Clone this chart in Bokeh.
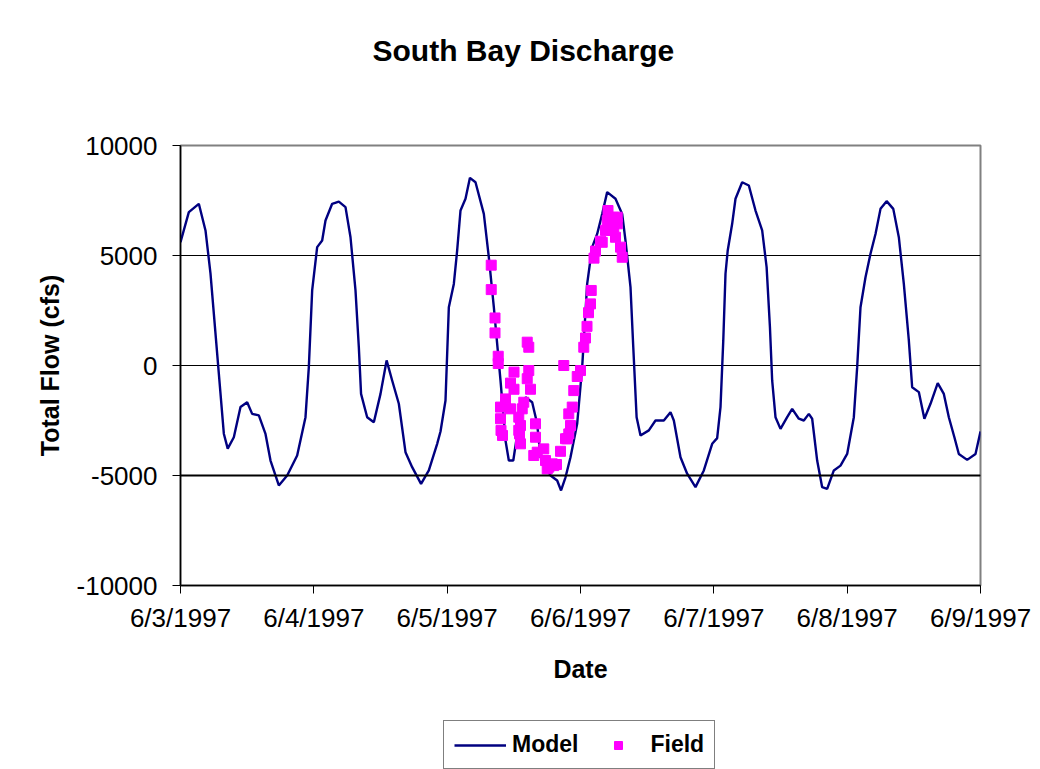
from bokeh.plotting import figure
from bokeh.layouts import column
from bokeh.models import Range1d, FixedTicker, Legend, LegendItem, Title, Span
from bokeh.embed import file_html
from bokeh.resources import INLINE

# ---- data (hours since 6/3/1997 00:00) ----
date_labels = ["6/3/1997", "6/4/1997", "6/5/1997", "6/6/1997",
               "6/7/1997", "6/8/1997", "6/9/1997"]
y_ticks = [-10000, -5000, 0, 5000, 10000]
grid_ticks = [-5000, 0, 5000]

model_hours = [0.0, 1.5, 3.3, 4.5, 5.4, 6.3, 6.9, 7.8, 8.5, 9.6, 10.8, 12.0, 12.9, 14.1,
               15.3, 16.2, 17.7, 19.2, 21.0, 22.5, 23.1, 23.7, 24.6, 25.5, 26.1, 27.3,
               28.5, 29.7, 30.6, 31.5, 32.1, 32.5, 33.6, 34.8, 36.0, 37.1, 38.1, 39.3,
               40.5, 41.7, 43.3, 44.7, 46.2, 46.8, 47.7, 48.3, 49.2, 49.8, 50.4, 51.3,
               52.1, 53.1, 54.6, 55.5, 56.4, 57.6, 58.5, 59.1, 59.9, 60.9, 62.1, 63.3,
               64.2, 64.8, 66.6, 67.8, 68.5, 69.3, 70.2, 71.4, 72.3, 73.2, 74.1, 75.0,
               75.9, 76.8, 78.3, 79.5, 80.1, 81.0, 81.5, 82.1, 82.8, 84.3, 85.5, 87.0,
               88.2, 88.8, 90.0, 91.2, 92.7, 94.2, 95.7, 96.6, 97.2, 97.7, 98.1, 98.5,
               99.3, 99.9, 101.1, 102.3, 103.5, 104.7, 105.5, 106.1, 106.5, 107.1, 108.0,
               109.2, 110.1, 111.3, 112.2, 113.1, 113.7, 114.6, 115.5, 116.4, 117.6,
               118.8, 120.0, 121.2, 121.8, 122.4, 123.3, 124.2, 125.1, 126.0, 127.1,
               128.3, 129.3, 130.2, 131.1, 131.7, 132.9, 133.9, 135.0, 136.3, 137.4,
               138.3, 139.3, 140.1, 141.6, 143.1, 144.0]
model_flow = [5600, 6970, 7350, 6140, 4180, 1450, -370, -3100, -3780, -3260, -1890, -1670,
              -2200, -2270, -3110, -4320, -5450, -5000, -4090, -2350, -75, 3410, 5380,
              5680, 6590, 7350, 7450, 7200, 5830, 3410, 830, -1290, -2350, -2580, -1290,
              230, -680, -1740, -3940, -4620, -5380, -4770, -3560, -3000, -1590, 2650,
              3710, 5230, 7045, 7580, 8530, 8330, 6890, 4920, 2650, -680, -3410, -4320,
              -4320, -2650, -1440, -1670, -2650, -4170, -5000, -5230, -5680, -5080,
              -4170, -2650, -75, 3710, 5380, 5980, 6890, 7880, 7580, 6890, 5680, 3560,
              830, -2350, -3180, -2950, -2500, -2500, -2120, -2500, -4170, -4920, -5530,
              -4770, -3560, -3300, -1890, 1140, 4170, 5230, 6440, 7580, 8330, 8180, 7045,
              6140, 4470, 1740, -680, -2350, -2880, -2350, -1970, -2420, -2500, -2200,
              -2420, -4320, -5530, -5610, -4770, -4550, -4020, -2350, -75, 2650, 4010,
              5080, 5980, 7120, 7470, 7120, 5830, 3710, 1140, -990, -1210, -2420, -1740,
              -800, -1290, -2350, -3260, -4020, -4290, -4020, -3000]

field_hours = [55.93, 55.93, 56.61, 56.61, 57.19, 57.19, 57.6, 57.6, 57.69, 57.96, 58.5,
               59.4, 59.4, 60.03, 60.03, 60.89, 60.89, 61.02, 61.2, 61.2, 61.51, 61.79,
               62.41, 62.69, 62.69, 62.41, 63.0, 63.59, 63.9, 63.9, 64.21, 65.39, 65.7,
               66.01, 66.29, 66.91, 67.19, 67.68, 68.4, 68.99, 69.3, 69.61, 69.89, 69.89,
               70.2, 70.51, 70.79, 71.41, 72.0, 72.59, 72.9, 73.17, 73.44, 73.8, 73.93,
               74.43, 74.7, 75.6, 75.91, 76.5, 76.81, 76.95, 77.09, 77.71, 77.99, 77.99,
               78.3, 78.61, 78.61, 79.2, 79.51]
field_flow = [4560, 3450, 2160, 1480, 420, 90, -1890, -2420, -2950, -3180, -1520,
              -800, -1970, -300, -1080, -2350, -2950, -3110, -2730, -3560, -1970, -1670,
              1060, 830, -230, -600, -1080, -4090, -2650, -3260, -3940, -3790, -4320,
              -4700, -4620, -4470, -4550, -4500, -3900, 0, -3330, -3330, -2200, -3110,
              -2730, -1890, -1140, -500, -230, 830, 1250, 1780, 2400, 2800, 3410,
              4880, 5200, 5650, 5600, 6140, 6590, 7045, 6670, 6140, 6740, 6290,
              5830, 6440, 6740, 5380, 4920]

assert len(model_hours) == len(model_flow), (len(model_hours), len(model_flow))
assert len(field_hours) == len(field_flow), (len(field_hours), len(field_flow))

x_ticks = [24 * i for i in range(len(date_labels))]

FONT = "Liberation Sans"
MODEL_STYLE = dict(line_color="#000080", line_width=2.4)
FIELD_STYLE = dict(marker="square", size=10, fill_color="#FF00FF", line_color="#FF00FF")

p = figure(frame_width=800, frame_height=440,
           output_backend="svg", toolbar_location=None,
           x_range=Range1d(x_ticks[0], x_ticks[-1]),
           y_range=Range1d(y_ticks[0], y_ticks[-1]),
           min_border_left=180, min_border_right=60,
           min_border_top=145, min_border_bottom=135)
p.background_fill_color = "white"
p.border_fill_color = "white"
p.outline_line_color = "#808080"
p.outline_line_width = 2

p.xgrid.visible = False
p.ygrid.ticker = FixedTicker(ticks=grid_ticks)
p.ygrid.grid_line_color = "black"
p.ygrid.grid_line_width = 1

p.add_layout(Span(location=grid_ticks[0], dimension="width",
                  line_color="black", line_width=2))

xa = p.xaxis[0]
xa.ticker = FixedTicker(ticks=x_ticks)
xa.major_label_overrides = {t: lab for t, lab in zip(x_ticks, date_labels)}
xa.axis_label = "Date"
xa.minor_tick_line_color = None
xa.major_tick_in = 0
xa.major_tick_out = 8
xa.major_label_standoff = 9
xa.axis_label_standoff = 19

ya = p.yaxis[0]
ya.ticker = FixedTicker(ticks=y_ticks)
ya.major_label_overrides = {t: str(t) for t in y_ticks}
ya.axis_label = "Total Flow (cfs)"
ya.minor_tick_line_color = None
ya.major_tick_in = 0
ya.major_tick_out = 8
ya.major_label_standoff = 15
ya.axis_label_standoff = 10

for ax in (xa, ya):
    ax.axis_line_color = "black"
    ax.axis_line_width = 1.5
    ax.major_tick_line_color = "black"
    ax.major_tick_line_width = 1
    ax.major_label_text_font = FONT
    ax.major_label_text_font_size = "26px"
    ax.major_label_text_color = "black"
    ax.axis_label_text_font = FONT
    ax.axis_label_text_font_size = "25px"
    ax.axis_label_text_font_style = "bold"
    ax.axis_label_text_color = "black"

p.line(model_hours, model_flow, **MODEL_STYLE)
p.scatter(field_hours, field_flow, **FIELD_STYLE)

# title: spacer panel next to the frame, then the real title above it
p.add_layout(Title(text=" ", text_font_size="10px", standoff=66), "above")
p.add_layout(Title(text="South Bay Discharge", text_font=FONT,
                   text_font_size="30px", text_font_style="bold",
                   text_color="black", align="left", offset=192,
                   standoff=0, vertical_align="bottom"), "above")

# legend strip below the chart (its view range shows none of the data,
# the renderers only supply the legend swatches)
lg = figure(width=1040, height=49, output_backend="svg", toolbar_location=None,
            x_axis_type=None, y_axis_type=None,
            x_range=Range1d(-20, -10), y_range=Range1d(-20000, -15000),
            min_border=0)
lg.outline_line_color = None
lg.background_fill_color = "white"
lg.border_fill_color = "white"
lg.xgrid.visible = False
lg.ygrid.visible = False
lm = lg.line(model_hours, model_flow, **MODEL_STYLE)
lf = lg.scatter(field_hours, field_flow, **FIELD_STYLE)
legend = Legend(items=[LegendItem(label="Model", renderers=[lm]),
                       LegendItem(label="Field", renderers=[lf])],
                orientation="horizontal", location=(263, 0),
                border_line_color="black", border_line_width=1,
                background_fill_color="white", background_fill_alpha=1,
                label_text_font=FONT, label_text_font_size="23px",
                label_text_font_style="bold", label_text_color="black",
                glyph_width=52, glyph_height=20, label_standoff=6,
                spacing=14, padding=10, margin=0)
lg.add_layout(legend)

page = column(p, lg, spacing=0)
open("out.html", "w").write(file_html(page, INLINE))
